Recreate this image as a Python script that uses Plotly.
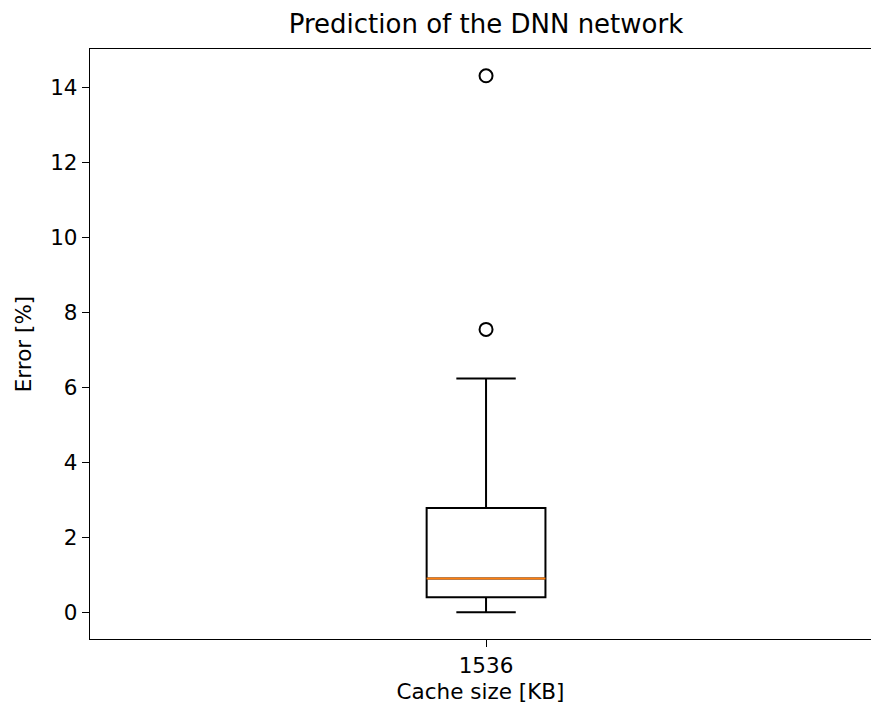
import plotly.graph_objects as go

# Box statistics for the prediction error (percent)
categories = ["1536"]
positions = [1]
q1 = [0.40]
median = [0.90]
q3 = [2.78]
lower_whisker = [0.0]
upper_whisker = [6.24]
outliers = [7.55, 14.32]

box_width = 0.15
font_family = "DejaVu Sans"
label_size = 21.5

fig = go.Figure()

fig.add_trace(go.Box(
    x=positions,
    q1=q1,
    median=median,
    q3=q3,
    lowerfence=lower_whisker,
    upperfence=upper_whisker,
    width=box_width,
    whiskerwidth=0.5,
    boxpoints=False,
    fillcolor="rgba(0,0,0,0)",
    line=dict(color="black", width=2),
    showlegend=False,
))

# Median drawn in orange across the box
for p, m in zip(positions, median):
    fig.add_trace(go.Scatter(
        x=[p - box_width / 2, p + box_width / 2],
        y=[m, m],
        mode="lines",
        line=dict(color="#ff7f0e", width=2),
        showlegend=False,
    ))

fig.add_trace(go.Scatter(
    x=[positions[0]] * len(outliers),
    y=outliers,
    mode="markers",
    marker=dict(symbol="circle-open", size=13, color="black", line=dict(width=2)),
    showlegend=False,
))

ymax = max(outliers)
ymin = min(lower_whisker)
pad = 0.05 * (ymax - ymin)

fig.update_layout(
    width=871,
    height=710,
    margin=dict(l=90, r=0, t=49, b=71),
    paper_bgcolor="white",
    plot_bgcolor="white",
    font=dict(family=font_family, size=label_size, color="black"),
    title=dict(
        text="Prediction of the DNN network",
        font=dict(family=font_family, size=26, color="black"),
        x=0.5 * (90 + 882) / 871,
        xanchor="center",
        y=1 - 24 / 710,
        yanchor="middle",
    ),
    xaxis=dict(
        range=[0.5, 1.486],
        tickmode="array",
        tickvals=positions,
        ticktext=categories,
        showgrid=False,
        zeroline=False,
        showline=True,
        mirror=True,
        linecolor="black",
        linewidth=1.4,
        ticks="outside",
        ticklen=7,
        tickwidth=1.4,
        tickcolor="black",
        tickfont=dict(size=label_size),
        title=dict(text="Cache size [KB]", font=dict(size=label_size), standoff=6),
    ),
    yaxis=dict(
        range=[ymin - pad, ymax + pad],
        tickmode="array",
        tickvals=[0, 2, 4, 6, 8, 10, 12, 14],
        showgrid=False,
        zeroline=False,
        showline=True,
        linecolor="black",
        linewidth=1.4,
        ticks="outside",
        ticklen=7,
        tickwidth=1.4,
        tickcolor="black",
        tickfont=dict(size=label_size),
        title=dict(text="Error [%]", font=dict(size=label_size), standoff=12),
    ),
)

fig.write_html("out.html")
